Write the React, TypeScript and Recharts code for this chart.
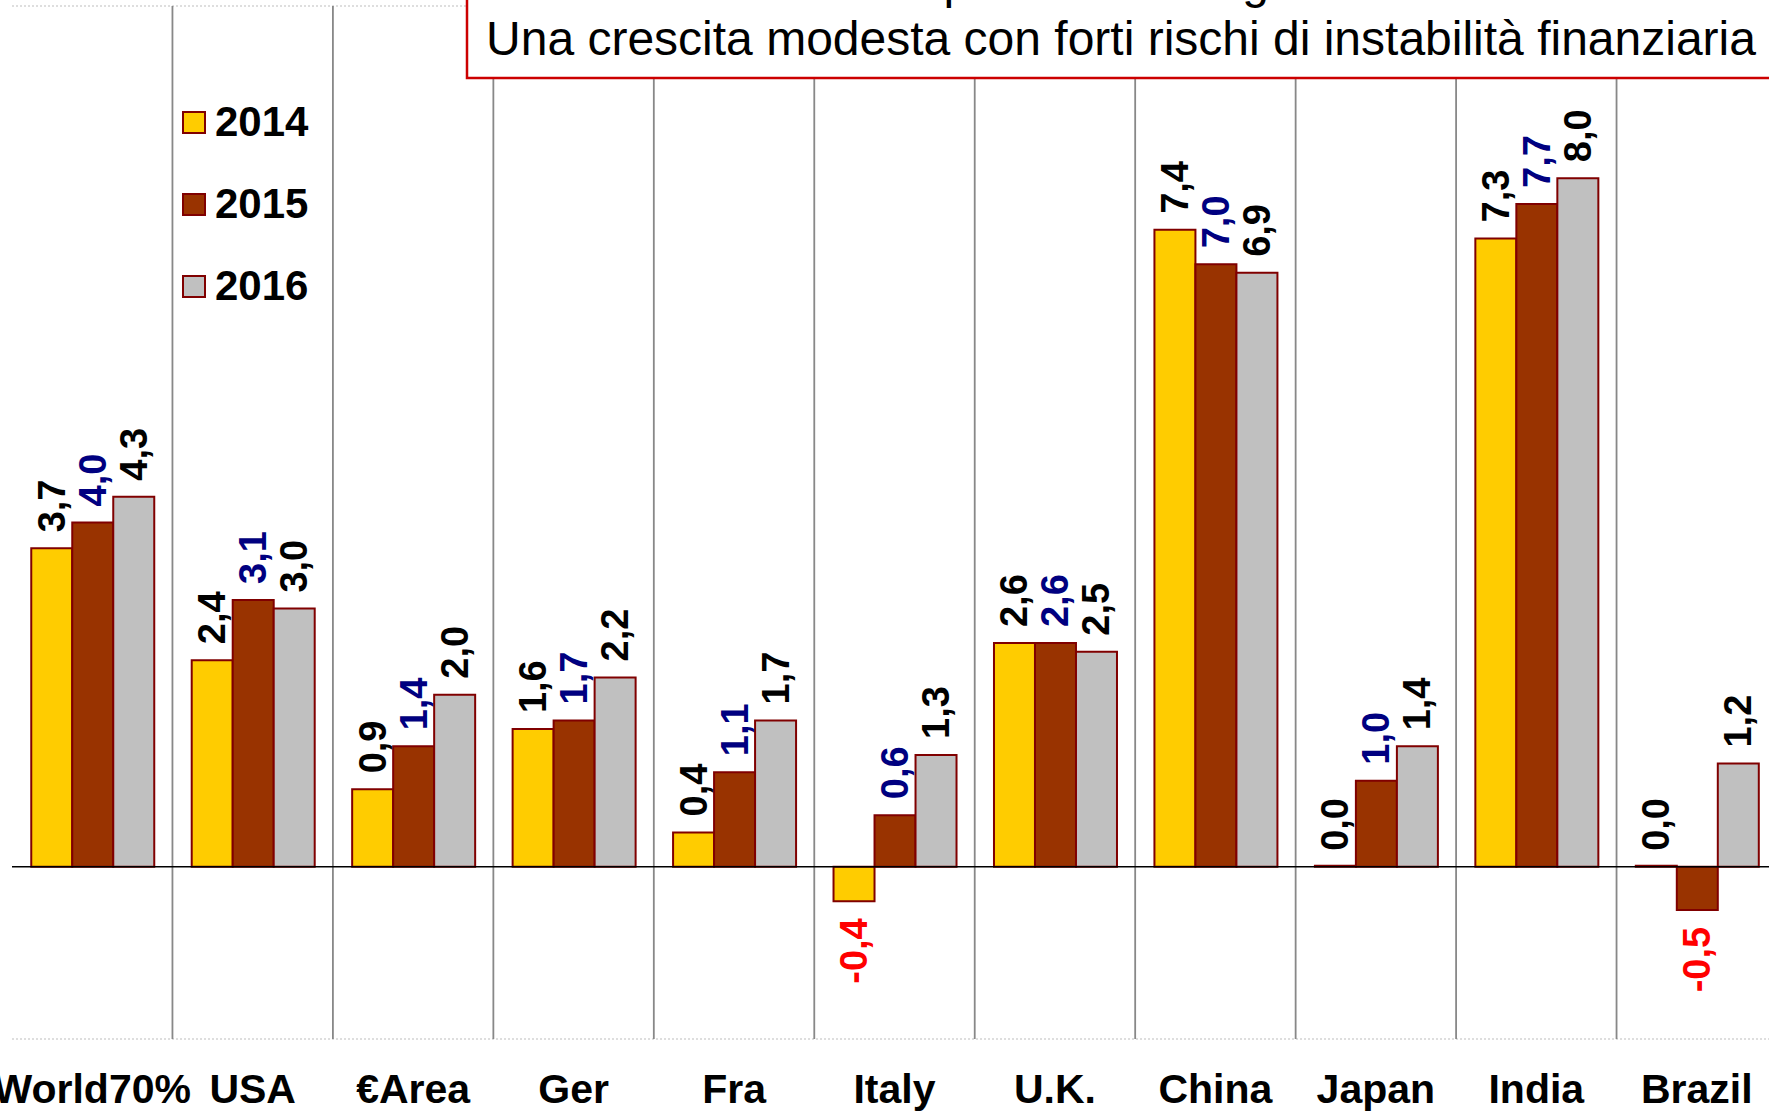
import React from 'react'
import { Bar, BarChart, CartesianGrid, LabelList, Legend, ReferenceLine, XAxis, YAxis } from 'recharts'

const categories = ['World70%', 'USA', '€Area', 'Ger', 'Fra', 'Italy', 'U.K.', 'China', 'Japan', 'India', 'Brazil']
const years = ['2014', '2015', '2016']
const values2014 = [3.7, 2.4, 0.9, 1.6, 0.4, -0.4, 2.6, 7.4, 0.0, 7.3, 0.0]
const values2015 = [4.0, 3.1, 1.4, 1.7, 1.1, 0.6, 2.6, 7.0, 1.0, 7.7, -0.5]
const values2016 = [4.3, 3.0, 2.0, 2.2, 1.7, 1.3, 2.5, 6.9, 1.4, 8.0, 1.2]
const yTicks = [-2, 0, 2, 4, 6, 8, 10]
const titleLines = ['Prospettive del Pil globale', 'Una crescita modesta con forti rischi di instabilità finanziaria']

const fills = ['#FFCC00', '#993300', '#C0C0C0']
const labelColors = ['#000000', '#000080', '#000000']
const FONT = '"Liberation Sans", Arial, sans-serif'

const data = categories.map((name, i) => ({
  name,
  y2014: values2014[i],
  y2015: values2015[i],
  y2016: values2016[i],
}))

// rotated value labels, above positive bars and below negative ones
const makeLabel = (color: string) => (props: any) => {
  const vb = props.viewBox || {}
  const x = Number(props.x ?? vb.x)
  const y = Number(props.y ?? vb.y)
  const w = Number(props.width ?? vb.width)
  const h = Number(props.height ?? vb.height)
  const v = Number(props.value)
  const cx = x + w / 2
  const neg = v < 0
  const top = v === 0 ? Math.max(y, y + h) : Math.min(y, y + h)
  const bottom = Math.max(y, y + h)
  const ay = neg ? bottom + 17 : top - 16
  return (
    <text
      x={cx}
      y={ay}
      transform={`rotate(-90 ${cx} ${ay})`}
      textAnchor={neg ? 'end' : 'start'}
      dominantBaseline="central"
      fill={neg ? '#FF0000' : color}
      fontFamily={FONT}
      fontWeight="bold"
      fontSize={38}
    >
      {v.toFixed(1).replace('.', ',')}
    </text>
  )
}

const CategoryTick = (props: any) => {
  const { x, y, payload } = props
  return (
    <text x={x} y={y} dy={64} textAnchor="middle" fontFamily={FONT} fontWeight="bold" fontSize={41} fill="#000">
      {payload.value}
    </text>
  )
}

const LegendBox = () => (
  <div>
    {years.map((yr, i) => (
      <div key={yr} style={{ display: 'flex', alignItems: 'center', height: 82 }}>
        <span
          style={{
            display: 'inline-block',
            width: 24,
            height: 23,
            boxSizing: 'border-box',
            background: fills[i],
            border: '2px solid #800000',
          }}
        />
        <span style={{ marginLeft: 9, fontFamily: FONT, fontWeight: 'bold', fontSize: 42, color: '#000' }}>{yr}</span>
      </div>
    ))}
  </div>
)

export default function App() {
  const keys = ['y2014', 'y2015', 'y2016']
  return (
    <div style={{ position: 'absolute', left: 0, top: 0, width: 1769, height: 1112, overflow: 'hidden', background: '#fff' }}>
      <BarChart
        width={1790}
        height={1112}
        data={data}
        margin={{ top: 6, right: 13, left: 12, bottom: 0 }}
        barCategoryGap="12%"
        barGap={0}
      >
        <CartesianGrid vertical={false} stroke="#BDBDBD" strokeDasharray="2 2" />
        <XAxis
          dataKey="name"
          height={73}
          interval={0}
          tickLine={false}
          axisLine={false}
          tickSize={0}
          tickMargin={0}
          tick={<CategoryTick />}
        />
        <YAxis
          domain={[-2, 10]}
          ticks={yTicks}
          width={0}
          tick={false}
          tickLine={false}
          axisLine={{ stroke: '#000', strokeWidth: 1.5 }}
        />
        {categories.slice(1).map((c) => (
          <ReferenceLine key={c} x={c} position="start" stroke="#888888" strokeWidth={1.8} />
        ))}
        <Legend layout="vertical" align="center" verticalAlign="middle" wrapperStyle={{ left: 182, top: 81, width: 'auto' }} content={() => <LegendBox />} />
        {keys.map((k, i) => (
          <Bar
            key={k}
            dataKey={k}
            name={years[i]}
            fill={fills[i]}
            stroke="#800000"
            strokeWidth={2}
            minPointSize={1}
            isAnimationActive={false}
          >
            <LabelList dataKey={k} content={makeLabel(labelColors[i])} />
          </Bar>
        ))}
        <ReferenceLine y={0} stroke="#000" strokeWidth={1.5} />
      </BarChart>
      <svg width={1769} height={1112} style={{ position: 'absolute', left: 0, top: 0, pointerEvents: 'none' }}>
        <rect x={467} y={-10} width={1400} height={88} fill="#fff" stroke="#CC0000" strokeWidth={2.5} />
        <text x={1121} y={-2} textAnchor="middle" fontFamily={FONT} fontSize={48} fill="#000">
          {titleLines[0]}
        </text>
        <text x={1121} y={55} textAnchor="middle" fontFamily={FONT} fontSize={48} fill="#000">
          {titleLines[1]}
        </text>
      </svg>
    </div>
  )
}
